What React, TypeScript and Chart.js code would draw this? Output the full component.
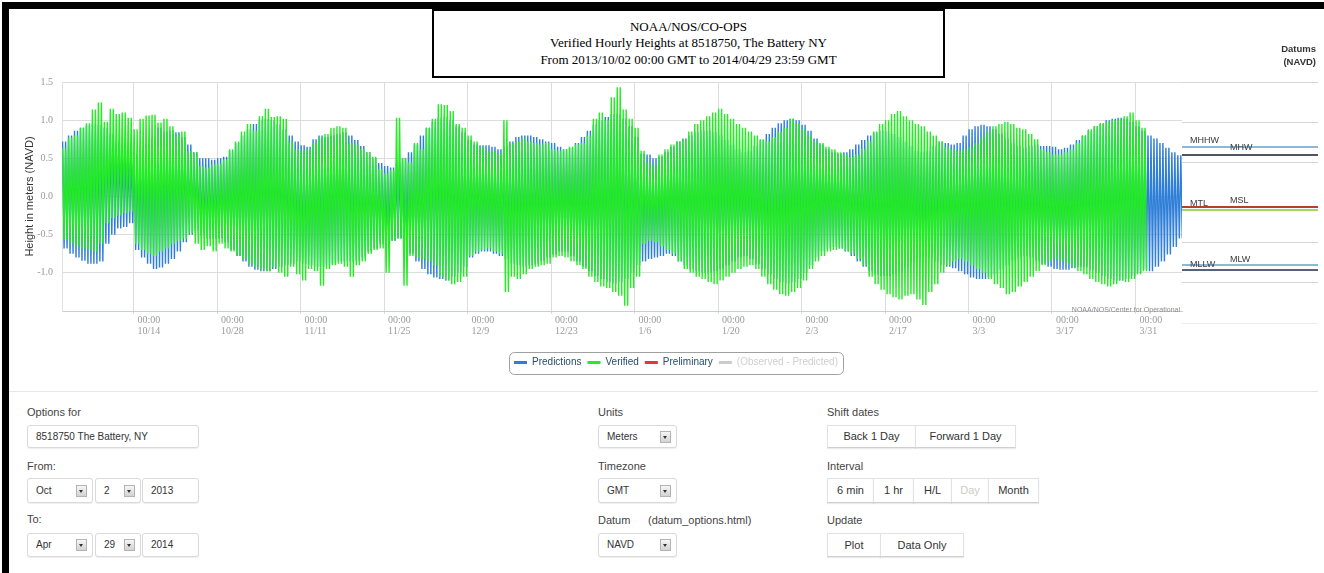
import React, { useEffect, useRef } from 'react';
import { Chart, registerables } from 'chart.js';

Chart.register(...registerables);
Chart.defaults.font.family = '"Liberation Sans", Arial, sans-serif';

// ---------------- data ----------------
// x axis: days since 2013/10/02 00:00 GMT
const X_MAX_DAYS = 187.8;
const tickDays = [12, 26, 40, 54, 68, 82, 96, 110, 124, 138, 152, 166, 180];
const tickDates = ['10/14', '10/28', '11/11', '11/25', '12/9', '12/23', '1/6', '1/20', '2/3', '2/17', '3/3', '3/17', '3/31'];
const tickTime = '00:00';

// daily high / low water (m, NAVD)
const verHigh = [
  0.63, 0.77, 0.80, 0.90, 0.96, 1.14, 1.23, 0.98, 1.15, 1.08,
  1.10, 1.03, 0.88, 1.02, 1.06, 1.07, 0.97, 1.02, 0.92, 0.82,
  0.85, 0.60, 0.58, 0.40, 0.38, 0.42, 0.43, 0.48, 0.62, 0.72,
  0.85, 0.95, 0.86, 1.05, 1.15, 1.04, 1.05, 1.02, 0.72, 0.62,
  0.60, 0.62, 0.70, 0.78, 0.82, 0.90, 0.92, 0.90, 0.70, 0.68,
  0.62, 0.58, 0.52, 0.36, 0.30, 0.35, 1.03, 0.50, 0.45, 0.70,
  0.62, 0.90, 1.02, 1.21, 1.20, 1.12, 0.95, 0.90, 0.80, 0.72,
  0.65, 0.60, 0.60, 0.56, 1.00, 0.70, 0.72, 0.76, 0.72, 0.70,
  0.68, 0.70, 0.62, 0.60, 0.62, 0.65, 0.68, 0.70, 0.80, 1.02,
  1.10, 1.00, 1.30, 1.43, 1.14, 1.02, 0.90, 0.60, 0.45, 0.40,
  0.55, 0.62, 0.68, 0.72, 0.75, 0.85, 0.95, 1.00, 1.05, 1.10,
  1.15, 1.08, 1.02, 0.95, 0.90, 0.85, 0.80, 0.75, 0.72, 0.78,
  0.85, 0.90, 1.02, 0.95, 0.88, 0.80, 0.72, 0.70, 0.65, 0.62,
  0.58, 0.55, 0.52, 0.55, 0.62, 0.72, 0.85, 0.95, 1.00, 1.08,
  1.12, 1.05, 1.00, 0.95, 0.92, 0.85, 0.80, 0.72, 0.65, 0.62,
  0.60, 0.62, 0.65, 0.70, 0.78, 0.85, 0.92, 0.95, 0.98, 0.95,
  0.90, 0.88, 0.82, 0.75, 0.62, 0.58, 0.55, 0.55, 0.58, 0.62,
  0.70, 0.80, 0.88, 0.92, 0.95, 0.98, 1.00, 1.02, 1.05, 1.10,
  1.00, 0.90,
];
const verLow = [
  -0.57, -0.62, -0.65, -0.68, -0.70, -0.72, -0.62, -0.35, -0.28, -0.25,
  -0.22, -0.20, -0.62, -0.70, -0.75, -0.78, -0.72, -0.68, -0.62, -0.58,
  -0.55, -0.48, -0.62, -0.70, -0.65, -0.72, -0.62, -0.68, -0.72, -0.78,
  -0.82, -0.88, -0.92, -0.95, -0.98, -0.92, -1.00, -1.05, -0.92, -1.02,
  -1.10, -0.95, -0.98, -1.17, -0.95, -0.90, -0.88, -0.92, -1.05, -0.90,
  -0.85, -0.75, -0.70, -0.68, -1.00, -0.58, -0.55, -1.17, -0.78, -0.80,
  -0.82, -0.85, -0.90, -1.05, -1.10, -1.15, -1.12, -1.05, -0.78, -0.72,
  -0.70, -0.68, -0.72, -0.75, -1.25, -1.05, -1.08, -1.02, -0.95, -0.92,
  -0.90, -0.88, -0.80, -0.78, -0.80, -0.85, -0.90, -0.95, -1.05, -1.12,
  -1.18, -1.20, -1.25, -1.30, -1.43, -1.20, -1.05, -0.62, -0.58, -0.60,
  -0.65, -0.70, -0.75, -0.85, -0.95, -1.00, -1.05, -1.08, -1.12, -1.15,
  -1.10, -1.05, -1.00, -0.95, -0.92, -0.90, -0.95, -1.05, -1.15, -1.22,
  -1.28, -1.30, -1.25, -1.20, -1.10, -0.95, -0.85, -0.78, -0.72, -0.70,
  -0.68, -0.72, -0.75, -0.82, -0.90, -1.05, -1.15, -1.22, -1.28, -1.32,
  -1.35, -1.30, -1.28, -1.35, -1.42, -1.25, -1.15, -1.00, -0.90, -0.85,
  -0.82, -0.85, -0.90, -0.95, -1.00, -1.08, -1.15, -1.20, -1.28, -1.25,
  -1.18, -1.12, -1.05, -0.98, -0.90, -0.85, -0.82, -0.85, -0.88, -0.92,
  -0.98, -1.02, -1.08, -1.12, -1.15, -1.18, -1.15, -1.10, -1.12, -1.08,
  -1.02, -0.98,
];
const predHigh = [
  0.72, 0.80, 0.86, 0.90, 0.93, 0.95, 0.94,
  0.90, 0.82, 0.72, 0.62, 0.56, 0.55, 0.60,
  0.68, 0.76, 0.90, 0.85, 0.86, 0.84, 0.78,
  0.68, 0.58, 0.50, 0.50, 0.48, 0.50, 0.52,
  0.60, 0.70, 0.80, 0.88, 0.95, 1.00, 1.02,
  1.00, 0.95, 0.88, 0.80, 0.72, 0.67, 0.65,
  0.75, 0.80, 0.78, 0.80, 0.82, 0.84, 0.80,
  0.74, 0.66, 0.58, 0.50, 0.44, 0.40, 0.38,
  0.45, 0.50, 0.58, 0.68, 0.80, 0.90, 0.98,
  1.03, 1.04, 1.00, 0.92, 0.84, 0.74, 0.68,
  0.67, 0.67, 0.65, 0.62, 0.66, 0.72, 0.78,
  0.80, 0.80, 0.78, 0.75, 0.72, 0.70, 0.65,
  0.62, 0.64, 0.70, 0.78, 0.86, 0.94, 1.00,
  1.04, 1.08, 1.08, 1.02, 0.92, 0.78, 0.56,
  0.55, 0.50, 0.52, 0.58, 0.65, 0.72, 0.76,
  0.80, 0.84, 0.86, 0.86, 0.84, 0.80, 0.74,
  0.68, 0.62, 0.58, 0.60, 0.66, 0.74, 0.82,
  0.90, 0.96, 1.00, 1.02, 1.00, 0.94, 0.86,
  0.76, 0.68, 0.62, 0.58, 0.56, 0.58, 0.62,
  0.68, 0.74, 0.80, 0.84, 0.86, 0.85, 0.82,
  0.78, 0.72, 0.66, 0.60, 0.58, 0.60, 0.66,
  0.72, 0.70, 0.68, 0.70, 0.80, 0.88, 0.92,
  0.94, 0.92, 0.88, 0.82, 0.76, 0.70, 0.66,
  0.64, 0.66, 0.68, 0.66, 0.66, 0.65, 0.62,
  0.64, 0.68, 0.74, 0.80, 0.86, 0.92, 0.96,
  1.00, 1.02, 1.03, 1.02, 0.98, 0.92, 0.86,
  0.80, 0.76, 0.70, 0.64, 0.58, 0.54,
];
const predLow = [
  -0.68, -0.75, -0.80, -0.84, -0.88, -0.88, -0.85,
  -0.62, -0.50, -0.42, -0.40, -0.35, -0.70, -0.80,
  -0.88, -0.95, -0.93, -0.88, -0.82, -0.72, -0.60,
  -0.50, -0.45, -0.52, -0.55, -0.55, -0.55, -0.60,
  -0.70, -0.78, -0.85, -0.92, -0.96, -0.98, -0.98,
  -0.95, -0.92, -0.90, -0.88, -0.85, -0.88, -0.90,
  -0.92, -0.92, -0.90, -0.88, -0.85, -0.85, -0.86,
  -0.84, -0.80, -0.72, -0.68, -0.62, -0.60, -0.58,
  -0.55, -0.60, -0.75, -0.85, -0.95, -1.02, -1.06,
  -1.08, -1.10, -1.05, -1.00, -0.92, -0.80, -0.75,
  -0.72, -0.72, -0.75, -0.78, -0.82, -0.88, -0.90,
  -0.92, -0.90, -0.88, -0.84, -0.80, -0.76, -0.72,
  -0.72, -0.78, -0.85, -0.92, -0.98, -1.04, -1.08,
  -1.12, -1.14, -1.12, -1.08, -1.00, -0.90, -0.85,
  -0.82, -0.80, -0.78, -0.75, -0.78, -0.85, -0.90,
  -0.95, -0.98, -1.00, -1.00, -0.98, -0.95, -0.90,
  -0.85, -0.80, -0.78, -0.82, -0.88, -0.95, -1.02,
  -1.08, -1.12, -1.14, -1.12, -1.08, -1.00, -0.90,
  -0.80, -0.72, -0.68, -0.66, -0.68, -0.72, -0.78,
  -0.85, -0.92, -0.98, -1.02, -1.04, -1.04, -1.02,
  -0.98, -0.92, -0.86, -0.80, -0.78, -0.80, -0.85,
  -0.90, -0.92, -0.94, -0.98, -1.02, -1.06, -1.08,
  -1.08, -1.06, -1.02, -0.96, -0.90, -0.84, -0.80,
  -0.78, -0.80, -0.84, -0.88, -0.92, -0.95, -0.96,
  -0.96, -0.94, -0.92, -0.92, -0.96, -1.00, -1.04,
  -1.08, -1.10, -1.10, -1.08, -1.04, -1.00, -0.96,
  -0.98, -0.92, -0.85, -0.76, -0.66, -0.55,
];

const seriesNames = ['Predictions', 'Verified', 'Preliminary', '(Observed - Predicted)'];
const seriesColors = ['#2f7ed8', '#22ec22', '#e8333a', '#cccccc'];

const datumNames = ['MHHW', 'MHW', 'MTL', 'MSL', 'MLW', 'MLLW'];
const datumValues = [0.69, 0.59, -0.056, -0.093, -0.777, -0.84];
const datumColors = ['#8db9d6', '#50565c', '#b8402a', '#a6d468', '#86bcd4', '#5d5d7c'];

// ---------------- layout constants ----------------
const LABEL_X = [8, 48, 8, 48, 48, 8];
const LABEL_DY = [4, 5, 1, 7, 3, 3];

function tidePoints(hi: number[], lo: number[]) {
  const pts: { x: number; y: number }[] = [];
  for (let d = 0; d < hi.length; d++) {
    pts.push({ x: d + 0.1, y: hi[d] });
    pts.push({ x: d + 0.35, y: lo[d] });
    pts.push({ x: d + 0.6, y: hi[d] });
    pts.push({ x: d + 0.85, y: lo[d] });
  }
  return pts;
}

const SERIF = '"Liberation Serif", "Times New Roman", serif';
const SANS = '"Liberation Sans", Arial, sans-serif';

function MainChart() {
  const ref = useRef<HTMLCanvasElement>(null);
  useEffect(() => {
    const canvas = ref.current!;
    const extras = {
      id: 'extras',
      afterDraw(chart: any) {
        const ctx = chart.ctx;
        const boxes = chart.legend && chart.legend.legendHitBoxes;
        if (boxes && boxes.length) {
          let l = Infinity, r = -Infinity, t = Infinity, b = -Infinity;
          boxes.forEach((h: any) => {
            l = Math.min(l, h.left); r = Math.max(r, h.left + h.width);
            t = Math.min(t, h.top); b = Math.max(b, h.top + h.height);
          });
          ctx.save();
          ctx.strokeStyle = '#a0a0a0';
          ctx.lineWidth = 1;
          ctx.beginPath();
          (ctx as any).roundRect(Math.round(l - 5) + 0.5, Math.round(t - 6) + 0.5, Math.round(r - l + 10), Math.round(b - t + 12), 5);
          ctx.stroke();
          ctx.restore();
        }
        const a = chart.chartArea;
        ctx.save();
        ctx.font = '7px ' + SANS;
        ctx.fillStyle = '#8a8a8a';
        ctx.textAlign = 'right';
        ctx.textBaseline = 'middle';
        ctx.fillText('NOAA/NOS/Center for Operational', a.right - 2, a.bottom - 1);
        ctx.restore();
      },
    };
    const chart = new Chart(canvas, {
      type: 'line',
      data: {
        datasets: [
          { label: seriesNames[0], data: tidePoints(predHigh, predLow), borderColor: seriesColors[0], backgroundColor: seriesColors[0], borderWidth: 1.4, pointRadius: 0, tension: 0, order: 2 },
          { label: seriesNames[1], data: tidePoints(verHigh, verLow), borderColor: seriesColors[1], backgroundColor: seriesColors[1], borderWidth: 1.4, pointRadius: 0, tension: 0, order: 1 },
          { label: seriesNames[2], data: [], borderColor: seriesColors[2], backgroundColor: seriesColors[2], pointRadius: 0, order: 3 },
          { label: seriesNames[3], data: [], borderColor: seriesColors[3], backgroundColor: seriesColors[3], pointRadius: 0, order: 4 },
        ],
      },
      options: {
        responsive: false,
        animation: false,
        events: [],
        layout: { padding: { top: 73, bottom: 10.5, left: 0, right: 0 } },
        plugins: {
          tooltip: { enabled: false },
          legend: {
            position: 'bottom',
            labels: {
              boxWidth: 13,
              boxHeight: 3,
              padding: 6,
              font: { family: SANS, size: 10 },
              generateLabels: (c: any) =>
                c.data.datasets.map((ds: any, i: number) => ({
                  text: ds.label,
                  fillStyle: ds.borderColor,
                  strokeStyle: ds.borderColor,
                  lineWidth: 0,
                  hidden: false,
                  datasetIndex: i,
                  fontColor: i === 3 ? '#cfcfcf' : '#274b6d',
                })),
            },
          },
        },
        scales: {
          x: {
            type: 'linear',
            min: 0,
            max: X_MAX_DAYS,
            afterBuildTicks: (s: any) => {
              s.ticks = tickDays.map((v) => ({ value: v }));
            },
            afterFit: (s: any) => {
              s.height = 40.5;
            },
            ticks: {
              autoSkip: false,
              maxRotation: 0,
              align: 'start',
              labelOffset: 4,
              padding: 1,
              color: '#9a9a9a',
              font: { family: SERIF, size: 10, lineHeight: 1.1 },
              callback: (_v: any, i: number) => [tickTime, tickDates[i]],
            },
            grid: { color: '#dcdcdc', tickLength: 3 },
            border: { color: '#c0d0e0' },
          },
          y: {
            min: -1.5,
            max: 1.5,
            afterFit: (s: any) => {
              s.width = 53;
            },
            ticks: {
              stepSize: 0.5,
              padding: 9,
              color: '#9a9a9a',
              font: { family: SERIF, size: 10 },
              callback: (v: any) => (Number(v) <= -1.5 ? '' : Number(v).toFixed(1)),
            },
            grid: { color: '#dcdcdc', drawTicks: false },
            border: { display: true, color: '#e0e0e0' },
            title: {
              display: true,
              text: 'Height in meters (NAVD)',
              color: '#333',
              font: { family: SANS, size: 11 },
              padding: { top: 14, bottom: 0 },
            },
          },
          yRight: {
            position: 'right',
            min: 0,
            max: 1,
            afterFit: (s: any) => {
              s.width = 161;
            },
            ticks: { display: false },
            grid: { display: false },
            border: { display: false },
          },
        },
      } as any,
      plugins: [extras],
    });
    return () => chart.destroy();
  }, []);
  return <canvas ref={ref} width={1334} height={379} style={{ position: 'absolute', left: 9, top: 9 }} />;
}

function DatumChart() {
  const ref = useRef<HTMLCanvasElement>(null);
  useEffect(() => {
    const canvas = ref.current!;
    const labels = {
      id: 'datumLabels',
      afterDatasetsDraw(chart: any) {
        const ctx = chart.ctx;
        const ys = chart.scales.y;
        const a = chart.chartArea;
        ctx.save();
        ctx.font = '9px ' + SANS;
        ctx.fillStyle = '#3a3a3a';
        ctx.textAlign = 'left';
        ctx.textBaseline = 'alphabetic';
        datumNames.forEach((n, i) => {
          const py = ys.getPixelForValue(datumValues[i]);
          ctx.fillText(n, a.left + LABEL_X[i], py - LABEL_DY[i]);
        });
        ctx.font = 'bold 9.5px ' + SANS;
        ctx.fillStyle = '#333';
        ctx.textAlign = 'right';
        ctx.textBaseline = 'middle';
        ctx.fillText('Datums', chart.width - 2, 40);
        ctx.fillText('(NAVD)', chart.width - 2, 53);
        ctx.restore();
      },
    };
    const chart = new Chart(canvas, {
      type: 'line',
      data: {
        datasets: datumNames.map((n, i) => ({
          label: n,
          data: [
            { x: 0, y: datumValues[i] },
            { x: 1, y: datumValues[i] },
          ],
          borderColor: datumColors[i],
          borderWidth: 2,
          pointRadius: 0,
        })),
      },
      options: {
        responsive: false,
        animation: false,
        events: [],
        layout: { padding: { top: 73, bottom: 67, left: 0, right: 0 } },
        plugins: { legend: { display: false }, tooltip: { enabled: false } },
        scales: {
          x: { type: 'linear', min: 0, max: 1, display: false },
          y: {
            min: -1.5,
            max: 1.5,
            ticks: { display: false, stepSize: 0.5 },
            border: { display: false },
            grid: {
              drawTicks: false,
              color: (c: any) => (c.tick && Math.abs(c.tick.value) < 1e-6 ? 'rgba(0,0,0,0)' : c.tick && c.tick.value <= -1.5 ? '#ececec' : '#d6d6d6'),
            },
          },
        },
      } as any,
      plugins: [labels],
    });
    return () => chart.destroy();
  }, []);
  return <canvas ref={ref} width={136} height={381} style={{ position: 'absolute', left: 1182, top: 9 }} />;
}

const txt = (x: number, cy: number, s: string, color = '#444') => (
  <div style={{ position: 'absolute', left: x, top: cy - 7, font: '11px ' + SANS, lineHeight: '14px', color, whiteSpace: 'nowrap' }}>{s}</div>
);

function Arrow() {
  return (
    <div style={{ position: 'absolute', right: 5, top: '50%', marginTop: -6, width: 11, height: 12, boxSizing: 'border-box', border: '1px solid #b4b4b4', background: 'linear-gradient(#f6f6f6,#d2d2d2)' }}>
      <div style={{ position: 'absolute', left: 2, top: 4, width: 0, height: 0, borderLeft: '2.5px solid transparent', borderRight: '2.5px solid transparent', borderTop: '3px solid #333' }} />
    </div>
  );
}

function Field({ x, y, w, h, text, arrow }: { x: number; y: number; w: number; h: number; text: string; arrow?: boolean }) {
  return (
    <div style={{ position: 'absolute', left: x, top: y, width: w, height: h, boxSizing: 'border-box', border: '1px solid #dadada', borderRadius: 3, background: '#fff', boxShadow: '0 1px 1px rgba(0,0,0,0.07)' }}>
      <span style={{ position: 'absolute', left: 8, top: 0, font: '10px ' + SANS, lineHeight: h - 2 + 'px', color: '#333', whiteSpace: 'nowrap' }}>{text}</span>
      {arrow ? <Arrow /> : null}
    </div>
  );
}

function BtnGroup({ x, y, h, items }: { x: number; y: number; h: number; items: { label: string; w: number; color?: string }[] }) {
  let cx = x;
  return (
    <>
      {items.map((it, i) => {
        const left = cx;
        cx += it.w;
        return (
          <div key={i} style={{ position: 'absolute', left, top: y, width: it.w + 1, height: h, boxSizing: 'border-box', border: '1px solid #e2e2e2', borderBottom: '1px solid #cfcfcf', background: '#fff', boxShadow: '0 1px 1px rgba(0,0,0,0.08)', textAlign: 'center', font: '11px ' + SANS, lineHeight: h - 2 + 'px', color: it.color || '#333' }}>
            {it.label}
          </div>
        );
      })}
    </>
  );
}

export default function App() {
  return (
    <div style={{ position: 'absolute', left: 0, top: 0, width: 1324, height: 573, overflow: 'hidden', background: '#fff' }}>
      <MainChart />
      <DatumChart />
      <div style={{ position: 'absolute', left: 432, top: 9, width: 513, height: 69, boxSizing: 'border-box', border: '2px solid #000', background: '#fff', display: 'flex', flexDirection: 'column', justifyContent: 'center', alignItems: 'center', font: '13px ' + SERIF, lineHeight: '16.5px', color: '#000' }}>
        <div>NOAA/NOS/CO-OPS</div>
        <div>Verified Hourly Heights at 8518750, The Battery NY</div>
        <div>From 2013/10/02 00:00 GMT to 2014/04/29 23:59 GMT</div>
      </div>
      <div style={{ position: 'absolute', left: 9, top: 391, width: 1309, height: 1, background: '#e6e6e6' }} />

      {txt(27, 412, 'Options for')}
      <Field x={27} y={425} w={172} h={23} text="8518750 The Battery, NY" />
      {txt(27, 466, 'From:')}
      <Field x={27} y={478} w={66} h={25} text="Oct" arrow />
      <Field x={95} y={478} w={46} h={25} text="2" arrow />
      <Field x={142} y={478} w={57} h={25} text="2013" />
      {txt(27, 519, 'To:')}
      <Field x={27} y={533} w={66} h={24} text="Apr" arrow />
      <Field x={95} y={533} w={46} h={24} text="29" arrow />
      <Field x={142} y={533} w={57} h={24} text="2014" />

      {txt(598, 412, 'Units')}
      <Field x={598} y={425} w={79} h={23} text="Meters" arrow />
      {txt(598, 466, 'Timezone')}
      <Field x={598} y={478} w={79} h={25} text="GMT" arrow />
      {txt(598, 520, 'Datum')}
      {txt(648, 520, '(datum_options.html)')}
      <Field x={598} y={533} w={79} h={24} text="NAVD" arrow />

      {txt(827, 412, 'Shift dates')}
      <BtnGroup x={827} y={425} h={23} items={[{ label: 'Back 1 Day', w: 88 }, { label: 'Forward 1 Day', w: 100 }]} />
      {txt(827, 466, 'Interval')}
      <BtnGroup x={827} y={478} h={25} items={[{ label: '6 min', w: 46 }, { label: '1 hr', w: 40 }, { label: 'H/L', w: 38 }, { label: 'Day', w: 37, color: '#cccccc' }, { label: 'Month', w: 50 }]} />
      {txt(827, 520, 'Update')}
      <BtnGroup x={827} y={533} h={24} items={[{ label: 'Plot', w: 53 }, { label: 'Data Only', w: 83 }]} />

      <div style={{ position: 'absolute', left: 2, top: 2, width: 1330, height: 600, boxSizing: 'border-box', borderLeft: '7px solid #000', borderTop: '7px solid #000', borderRight: '7px solid #000', pointerEvents: 'none' }} />
    </div>
  );
}
